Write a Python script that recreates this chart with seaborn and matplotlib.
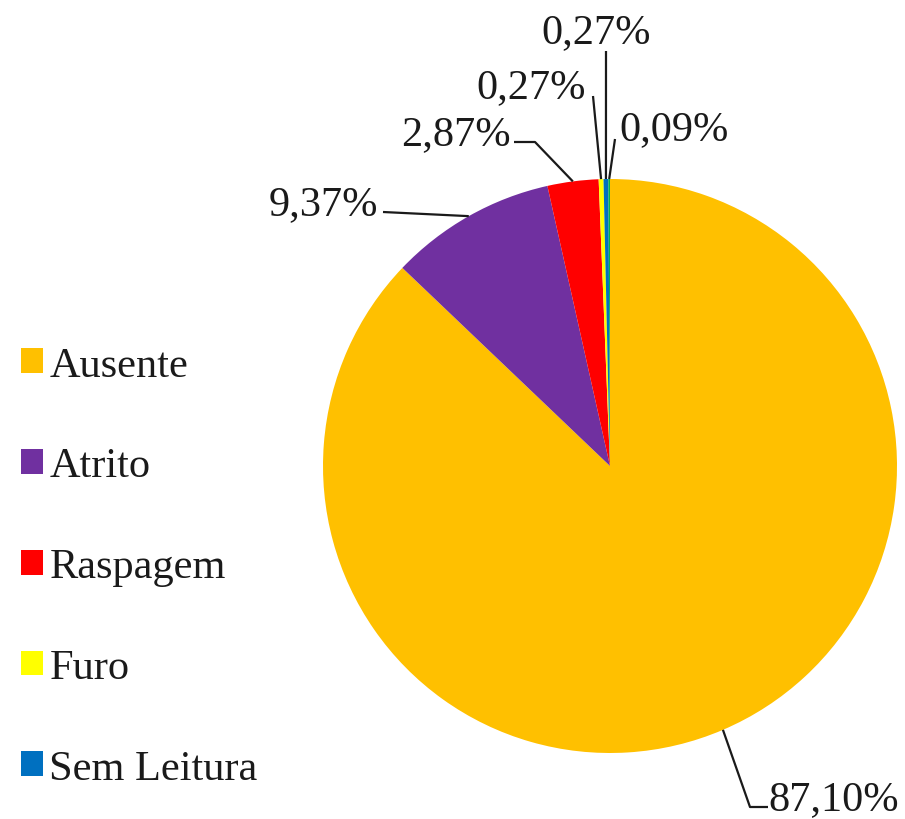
import matplotlib
matplotlib.use("Agg")
import matplotlib.pyplot as plt
import seaborn as sns
import numpy as np
from matplotlib.patches import Patch

# ---- data ----
categories = ["Ausente", "Atrito", "Raspagem", "Furo", "Sem Leitura", "Outro"]
values = [87.10, 9.37, 2.87, 0.27, 0.27, 0.09]
colors = ["#FFC000", "#7030A0", "#FF0000", "#FFFF00", "#0070C0", "#00B050"]
legend_categories = ["Ausente", "Atrito", "Raspagem", "Furo", "Sem Leitura"]

sns.set_theme(style="white")
plt.rcParams['font.family'] = ['Liberation Serif', 'DejaVu Serif']
FS = 30.5

W, H = 905, 820
fig = plt.figure(figsize=(W / 100, H / 100), dpi=100)
ax = fig.add_axes([0, 0, 1, 1])
cx, cy, R = 610, H - 467, 287
wedges, _ = ax.pie(values, colors=colors, startangle=90, counterclock=False,
                   center=(cx, cy), radius=R,
                   wedgeprops=dict(linewidth=0))
ax.set_xlim(0, W)
ax.set_ylim(0, H)
ax.set_aspect('equal')
ax.axis('off')

# label layout in pixel coords from top: text x, baseline y, ha, leader path near text
layout = [
    (768, 810, 'left', [(768, 808), (750, 808)]),
    (378, 215, 'right', [(383, 213)]),
    (511, 145, 'right', [(514, 143), (535, 143)]),
    (586, 98, 'right', [(593, 97)]),
    (596, 43, 'center', [(606, 52)]),
    (619, 140, 'left', [(615, 140)]),
]

for w, v, (tx, ty, ha, path) in zip(wedges, values, layout):
    th = np.deg2rad((w.theta1 + w.theta2) / 2)
    ax_pt = (cx + R * np.cos(th), cy + R * np.sin(th))
    xs = [p[0] for p in path] + [ax_pt[0]]
    ys = [H - p[1] for p in path] + [ax_pt[1]]
    ax.plot(xs, ys, color="#1a1a1a", lw=1.6, solid_capstyle='butt')
    label = f"{v:.2f}%".replace(".", ",")
    ax.text(tx, H - ty, label, ha=ha, va='baseline', fontsize=FS, color="#1a1a1a")

handles = [Patch(facecolor=colors[categories.index(c)], edgecolor='none') for c in legend_categories]
leg = fig.legend(handles, legend_categories, loc='center left',
                 bbox_to_anchor=(21 / W, (H - 568) / H), frameon=False,
                 fontsize=FS, handlelength=0.52, handleheight=0.52,
                 handletextpad=0.15, labelspacing=1.47, borderpad=0,
                 borderaxespad=0)
for t in leg.get_texts():
    t.set_color("#1a1a1a")

fig.savefig("out.png", dpi=100, facecolor="white")
